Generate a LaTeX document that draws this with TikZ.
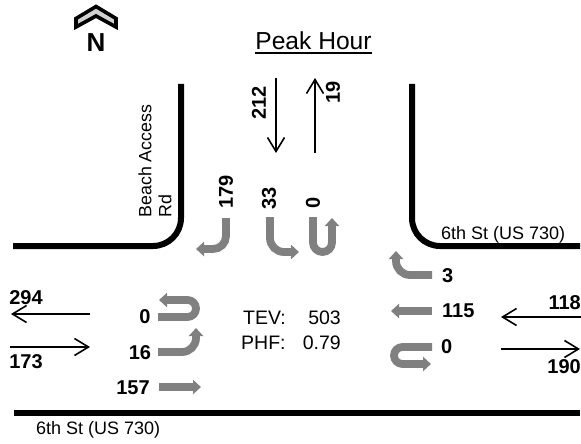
\documentclass[tikz,border=0pt]{standalone}
\usepackage{fontspec}
\setmainfont{Liberation Sans}
\usetikzlibrary{arrows.meta}
\definecolor{mvgray}{gray}{0.5}
\tikzset{
  road/.style={line width=6pt,black,line cap=butt},
  flow/.style={line width=1.6pt,black,-{Straight Barb[length=14pt,width=17pt,line width=1.6pt]}},
  turn/.style={line width=7.8pt,mvgray,-{Triangle[length=8pt,width=14pt]}},
  num/.style={font=\fontsize{20}{20}\bfseries\selectfont,inner sep=0pt},
  lab/.style={font=\fontsize{19.5}{20}\selectfont,inner sep=0pt},
  small/.style={font=\fontsize{18}{20}\selectfont,inner sep=0pt},
  side/.style={font=\fontsize{17.8}{20}\selectfont,inner sep=0pt,rotate=90}
}
\begin{document}
\begin{tikzpicture}[x=1pt,y=-1pt]
\useasboundingbox (0,0) rectangle (581,444);
\fill[white] (0,0) rectangle (581,444);
% north arrow
\draw[line width=3.6pt,black,fill=black!18,miter limit=10] (96,6.5) -- (116,18.5) -- (116,27) -- (96,16) -- (76,27) -- (76,18.5) -- cycle;
\node[inner sep=0pt,font=\fontsize{26}{26}\bfseries\selectfont] (north) at (96,43) {N};
\node[inner sep=0pt,font=\fontsize{24.6}{24}\selectfont] (title) at (313.5,41) {Peak Hour};
\draw[line width=1.5pt] (255,53) -- (372,53);
% roads
\draw[road] (181,84) -- (181,218) arc[start angle=0,end angle=90,radius=28] -- (13,246);
\draw[road] (412,84) -- (412,218) arc[start angle=180,end angle=90,radius=28] -- (580,246);
\draw[road] (14,413) -- (580,413);
% through flows
\draw[flow] (276,78) -- (276,153);
\draw[flow] (315,153) -- (315,78);
\draw[flow] (90,314) -- (11,314);
\draw[flow] (10,347) -- (90,347);
\draw[flow] (581,317) -- (501,317);
\draw[flow] (501,349) -- (580,349);
% north approach turns
\draw[turn] (226,218) -- (226,236) arc[start angle=0,end angle=90,radius=13] -- (196,249);
\draw[turn] (270,217) -- (270,238) arc[start angle=180,end angle=90,radius=14] -- (299,252);
\draw[turn] (313,217) -- (313,242.5) arc[start angle=180,end angle=0,radius=9.5] -- (332,218);
% east approach turns
\draw[turn] (432,275) -- (410,275) arc[start angle=90,end angle=180,radius=14] -- (396,251);
\draw[turn] (432,311) -- (391,311);
\draw[turn] (432,347) -- (402.5,347) arc[start angle=270,end angle=90,radius=8.5] -- (431,364);
% west approach turns
\draw[turn] (158,317) -- (187.5,317) arc[start angle=90,end angle=-90,radius=8.5] -- (159,300);
\draw[turn] (158,352) -- (182,352) arc[start angle=90,end angle=0,radius=14] -- (196,328);
\draw[turn] (159,387) -- (201,387);
% labels
\node[num,rotate=90] (n212) at (259,103) {212};
\node[num,rotate=90] (n19) at (333,92) {19};
\node[num,rotate=90] (n179) at (226,192) {179};
\node[num,rotate=90] (n33) at (269,198) {33};
\node[num,rotate=90] (n0a) at (313,203) {0};
\node[side] (beach) at (145,161) {Beach Access};
\node[side] (rd) at (165,206) {Rd};
\node[num] (n294) at (26,298) {294};
\node[num] (n173) at (26,362) {173};
\node[num] (n0b) at (145,317) {0};
\node[num] (n16) at (140,353) {16};
\node[num] (n157) at (133,388) {157};
\node[lab,anchor=west] (tev) at (243,318) {TEV:};
\node[lab,anchor=west] (phf) at (241,343) {PHF:};
\node[lab,anchor=east] (tevv) at (341,318) {503};
\node[lab,anchor=east] (phfv) at (341,343) {0.79};
\node[small,anchor=west] (st1) at (36,430) {6th St (US 730)};
\node[small,anchor=west] (st2) at (441,235) {6th St (US 730)};
\node[num,anchor=west] (n3) at (442,276) {3};
\node[num,anchor=west] (n115) at (442,311) {115};
\node[num,anchor=west] (n0c) at (441,347) {0};
\node[num,anchor=east] (n118) at (581,303) {118};
\node[num,anchor=east] (n190) at (581,367) {190};
\end{tikzpicture}
\end{document}
